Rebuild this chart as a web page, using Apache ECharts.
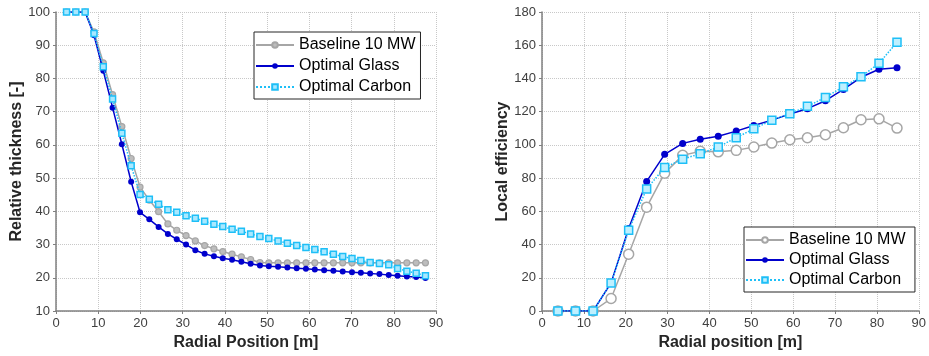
<!DOCTYPE html>
<html><head><meta charset="utf-8">
<script src="https://cdn.jsdelivr.net/npm/echarts@6/dist/echarts.min.js"></script>
<style>html,body{margin:0;padding:0;background:#fff}#c{width:929px;height:356px}</style>
</head><body><div id="c"></div>
<script>
// ---- Data: left plot (relative thickness) ----
var thickX = [2.5,4.7,6.9,9.0,11.2,13.4,15.6,17.8,19.9,22.1,24.3,26.5,28.6,30.8,33.0,35.2,37.4,39.5,41.7,43.9,46.1,48.3,50.4,52.6,54.8,57.0,59.2,61.3,63.5,65.7,67.9,70.1,72.2,74.4,76.6,78.8,80.9,83.1,85.3,87.5];
var thickBaseline = [100,100,100,94,84.7,75.1,65.5,55.9,47.3,43.4,39.9,36.2,34.3,32.7,31.1,29.7,28.7,27.9,27.1,26.3,25.5,24.6,24.5,24.5,24.5,24.5,24.5,24.5,24.5,24.5,24.5,24.5,24.5,24.5,24.5,24.5,24.5,24.5,24.5,24.5];
var thickGlass = [100,100,100,93,82.3,71.2,60.2,48.9,39.7,37.6,35.3,33.2,31.6,30.0,28.3,27.2,26.5,25.9,25.4,24.8,24.2,23.7,23.5,23.3,23.1,22.9,22.7,22.5,22.3,22.1,21.9,21.7,21.5,21.3,21.1,20.8,20.6,20.4,20.2,19.9];
var thickCarbon = [100,100,100,93.5,83.5,73.8,63.5,53.7,45.1,43.6,42.1,40.5,39.7,38.7,37.9,37.0,36.1,35.4,34.6,34.0,33.2,32.4,31.8,31.1,30.4,29.7,29.1,28.5,27.8,27.1,26.4,25.8,25.2,24.6,24.3,23.9,22.8,22.0,21.4,20.6];
// ---- Data: right plot (local efficiency) ----
var effX = [3.8,8.0,12.2,16.5,20.7,25.0,29.3,33.6,37.8,42.1,46.4,50.6,54.9,59.2,63.4,67.7,72.0,76.2,80.5,84.8];
var effBaseline = [0,0,0,7.5,34.2,62.5,83.0,93.7,96.1,95.8,96.7,98.7,101.1,103.1,104.3,106.1,110.3,115.1,115.7,110.1];
var effGlass = [0,0,0,16.9,49.7,78.0,94.3,100.9,103.4,105.2,108.3,111.7,114.9,118.6,121.8,126.6,133.4,140.7,145.5,146.5];
var effCarbon = [0,0,0,16.9,48.6,73.5,86.4,91.4,94.7,98.8,104.3,109.7,114.8,118.8,123.2,128.6,135.0,141.0,149.1,161.8];
var seriesNames = ['Baseline 10 MW','Optimal Glass','Optimal Carbon'];
var xTitles = ['Radial Position [m]','Radial position [m]'];
var yTitles = ['Relative thickness [-]','Local efficiency'];

function pairs(xs, ys){ return xs.map(function(x,i){return [x, ys[i]];}); }

var FONT = '"Liberation Sans", Arial, sans-serif';
var GRAY = '#a6a6a6', BLUE = '#0000cc', CYAN = '#1ebff7';

function xAx(idx, title){
  return {gridIndex: idx, type:'value', min:0, max:90, interval:10,
    name:title, nameLocation:'middle', nameGap:24,
    nameTextStyle:{fontFamily:FONT, fontSize:16, fontWeight:'bold', color:'#262626'},
    axisLine:{show:true, onZero:false, lineStyle:{color:'#808080', width:1.5}},
    axisTick:{show:true, inside:false, length:3, lineStyle:{color:'#808080'}},
    axisLabel:{fontFamily:FONT, fontSize:13, color:'#404040', margin:6},
    splitLine:{show:true, lineStyle:{color:'#c8c8c8', type:'dotted', width:1}}};
}
function yAx(idx, title, mn, mx, iv, gap){
  return {gridIndex: idx, type:'value', min:mn, max:mx, interval:iv,
    name:title, nameLocation:'middle', nameGap:gap,
    nameTextStyle:{fontFamily:FONT, fontSize:16, fontWeight:'bold', color:'#262626'},
    axisLine:{show:true, onZero:false, lineStyle:{color:'#808080', width:1.5}},
    axisTick:{show:true, inside:false, length:3, lineStyle:{color:'#808080'}},
    axisLabel:{fontFamily:FONT, fontSize:13, color:'#404040', margin:6},
    splitLine:{show:true, lineStyle:{color:'#c8c8c8', type:'dotted', width:1}}};
}

var leftNames = seriesNames;
var rightNames = seriesNames.map(function(n){return n + ' ';});

var option = {
  animation:false,
  backgroundColor:'#ffffff',
  grid:[
    {left:56, right:493, top:12, bottom:45},
    {left:542, right:7, top:12, bottom:45}
  ],
  xAxis:[xAx(0, xTitles[0]), xAx(1, xTitles[1])],
  yAxis:[yAx(0, yTitles[0], 10, 100, 10, 30), yAx(1, yTitles[1], 0, 180, 20, 27)],
  legend:[
    {data:leftNames, orient:'vertical', left:254, top:32, itemWidth:38, itemHeight:7, itemGap:5,
     padding:[5,5,4,1], borderColor:'#262626', borderWidth:1, backgroundColor:'#fff',
     selectedMode:false, textStyle:{fontFamily:FONT, fontSize:16, color:'#000'}},
    {data:rightNames, orient:'vertical', left:744, top:227, itemWidth:38, itemHeight:7, itemGap:4,
     padding:[5,5,4,1], borderColor:'#262626', borderWidth:1, backgroundColor:'#fff',
     selectedMode:false, textStyle:{fontFamily:FONT, fontSize:16, color:'#000'}}
  ],
  series:[
    {name:leftNames[0], type:'line', xAxisIndex:0, yAxisIndex:0, data:pairs(thickX, thickBaseline),
     symbol:'circle', symbolSize:6, lineStyle:{color:GRAY, width:1.5},
     itemStyle:{color:'#bdbdbd', borderColor:GRAY, borderWidth:1.2}, z:2},
    {name:leftNames[1], type:'line', xAxisIndex:0, yAxisIndex:0, data:pairs(thickX, thickGlass),
     symbol:'circle', symbolSize:6, lineStyle:{color:BLUE, width:1.5},
     itemStyle:{color:BLUE, borderColor:BLUE, borderWidth:0}, z:3},
    {name:leftNames[2], type:'line', xAxisIndex:0, yAxisIndex:0, data:pairs(thickX, thickCarbon),
     symbol:'rect', symbolSize:6, lineStyle:{color:CYAN, width:1.5, type:'dotted'},
     itemStyle:{color:'#a8e8ff', borderColor:CYAN, borderWidth:1.5}, z:4},
    {name:rightNames[0], type:'line', xAxisIndex:1, yAxisIndex:1, data:pairs(effX, effBaseline),
     symbol:'circle', symbolSize:10, lineStyle:{color:GRAY, width:1.5},
     itemStyle:{color:'#ffffff', borderColor:GRAY, borderWidth:1.5}, z:2},
    {name:rightNames[1], type:'line', xAxisIndex:1, yAxisIndex:1, data:pairs(effX, effGlass),
     symbol:'circle', symbolSize:7, lineStyle:{color:BLUE, width:1.5},
     itemStyle:{color:BLUE, borderColor:BLUE, borderWidth:0}, z:3},
    {name:rightNames[2], type:'line', xAxisIndex:1, yAxisIndex:1, data:pairs(effX, effCarbon),
     symbol:'rect', symbolSize:8, lineStyle:{color:CYAN, width:1.5, type:'dotted'},
     itemStyle:{color:'#bff0ff', borderColor:CYAN, borderWidth:1.5}, z:4}
  ]
};
var chart = echarts.init(document.getElementById('c'), null, {renderer:'canvas'});
chart.setOption(option);
</script>
</body></html>
